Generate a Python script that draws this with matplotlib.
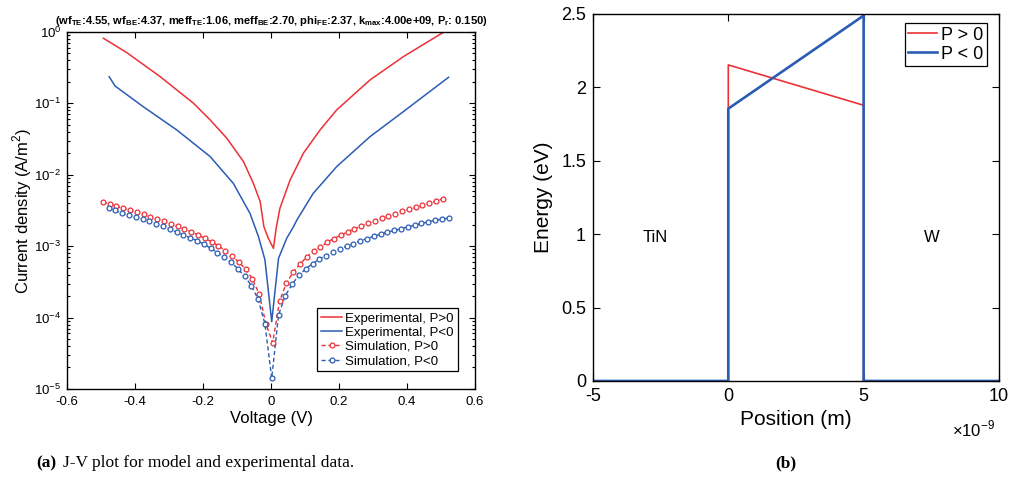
import matplotlib
matplotlib.use("Agg")
import matplotlib.pyplot as plt
import numpy as np
from matplotlib.ticker import LogLocator, FixedLocator

plt.rcParams["font.family"] = ["Liberation Sans", "DejaVu Sans"]
plt.rcParams["mathtext.fontset"] = "custom"
plt.rcParams["mathtext.rm"] = "Liberation Sans"
plt.rcParams["mathtext.bf"] = "Liberation Sans:bold"

RED = "#ec3037"
BLUE = "#2b5cb4"

# ---- (a) J-V data: voltage (V), log10 of current density (A/m^2)
v_exp_pos = [-0.493, -0.424, -0.326, -0.228, -0.179, -0.130, -0.081, -0.052, -0.032,
             -0.021, -0.008, 0.007, 0.015, 0.026, 0.056, 0.095, 0.144, 0.193, 0.291,
             0.389, 0.505]
logj_exp_pos = [-0.088, -0.290, -0.626, -0.999, -1.232, -1.489, -1.816, -2.120, -2.376,
                -2.727, -2.890, -3.030, -2.750, -2.470, -2.073, -1.699, -1.373, -1.092,
                -0.672, -0.346, -0.010]

v_exp_neg = [-0.476, -0.459, -0.376, -0.277, -0.179, -0.111, -0.062, -0.037, -0.018,
             0.002, 0.022, 0.046, 0.066, 0.076, 0.124, 0.193, 0.291, 0.389, 0.522]
logj_exp_neg = [-0.626, -0.756, -1.046, -1.373, -1.746, -2.120, -2.540, -2.866, -3.190,
                -4.057, -3.170, -2.890, -2.727, -2.633, -2.260, -1.886, -1.466, -1.116,
                -0.635]

v_sim_pos = [-0.495, -0.475, -0.455, -0.435, -0.415, -0.395, -0.375, -0.355, -0.335, -0.315,
             -0.295, -0.275, -0.255, -0.235, -0.215, -0.195, -0.175, -0.155, -0.135, -0.115,
             -0.095, -0.075, -0.055, -0.035, -0.015, 0.005, 0.025, 0.045, 0.065, 0.085,
             0.105, 0.125, 0.145, 0.165, 0.185, 0.205, 0.225, 0.245, 0.265, 0.285,
             0.305, 0.325, 0.345, 0.365, 0.385, 0.405, 0.425, 0.445, 0.465, 0.485, 0.505]
logj_sim_pos = [-2.388, -2.411, -2.444, -2.467, -2.500, -2.528, -2.556, -2.593, -2.621, -2.650,
                -2.687, -2.724, -2.757, -2.799, -2.841, -2.888, -2.939, -2.995, -3.061, -3.136,
                -3.224, -3.318, -3.458, -3.668, -4.089, -4.350, -3.766, -3.519, -3.364, -3.252,
                -3.150, -3.070, -3.014, -2.944, -2.893, -2.846, -2.799, -2.757, -2.720, -2.682,
                -2.645, -2.612, -2.575, -2.547, -2.514, -2.486, -2.458, -2.425, -2.402, -2.369, -2.336]

v_sim_neg = [-0.478, -0.458, -0.438, -0.418, -0.398, -0.378, -0.358, -0.338, -0.318, -0.298,
             -0.278, -0.258, -0.238, -0.218, -0.198, -0.178, -0.158, -0.138, -0.118, -0.098,
             -0.078, -0.058, -0.038, -0.018, 0.002, 0.022, 0.042, 0.062, 0.082, 0.102,
             0.122, 0.142, 0.162, 0.182, 0.202, 0.222, 0.242, 0.262, 0.282, 0.302,
             0.322, 0.342, 0.362, 0.382, 0.402, 0.422, 0.442, 0.462, 0.482, 0.502, 0.522]
logj_sim_neg = [-2.467, -2.500, -2.537, -2.565, -2.593, -2.621, -2.654, -2.687, -2.724, -2.762,
                -2.804, -2.841, -2.883, -2.921, -2.972, -3.028, -3.089, -3.154, -3.224, -3.313,
                -3.421, -3.551, -3.743, -4.089, -4.850, -3.963, -3.692, -3.533, -3.407, -3.318,
                -3.243, -3.182, -3.131, -3.084, -3.042, -3.000, -2.967, -2.925, -2.893, -2.864,
                -2.832, -2.804, -2.780, -2.757, -2.729, -2.706, -2.682, -2.659, -2.640, -2.621, -2.607]

# ---- (b) band diagram: position (m), energy (eV)
pos_pos = [-5e-9, 0.0, 0.0, 5e-9, 5e-9, 10e-9]
energy_pos = [0.0, 0.0, 2.153, 1.878, 0.0, 0.0]
pos_neg = [-5e-9, 0.0, 0.0, 5e-9, 5e-9, 10e-9]
energy_neg = [0.0, 0.0, 1.855, 2.489, 0.0, 0.0]

fig = plt.figure(figsize=(10.11, 4.8), dpi=100)
ax1 = fig.add_axes([0.0663, 0.1896, 0.4036, 0.7438])
ax2 = fig.add_axes([0.5865, 0.2063, 0.4016, 0.7646])

# left panel
ax1.plot(v_exp_pos, 10 ** np.array(logj_exp_pos), color=RED, lw=1.1, label="Experimental, P>0")
ax1.plot(v_exp_neg, 10 ** np.array(logj_exp_neg), color=BLUE, lw=1.1, label="Experimental, P<0")
ax1.plot(v_sim_pos, 10 ** np.array(logj_sim_pos), color=RED, lw=1.0, ls=(0, (3, 2)),
         marker="o", ms=3.5, mfc="white", mew=0.9, label="Simulation, P>0")
ax1.plot(v_sim_neg, 10 ** np.array(logj_sim_neg), color=BLUE, lw=1.0, ls=(0, (3, 2)),
         marker="o", ms=3.5, mfc="white", mew=0.9, label="Simulation, P<0")
ax1.set_yscale("log")
ax1.set_xlim(-0.6, 0.6)
ax1.set_ylim(1e-5, 1)
ax1.set_xticks([-0.6, -0.4, -0.2, 0, 0.2, 0.4, 0.6])
ax1.set_xticklabels(["-0.6", "-0.4", "-0.2", "0", "0.2", "0.4", "0.6"])
ax1.yaxis.set_major_locator(LogLocator(base=10, numticks=10))
ax1.yaxis.set_minor_locator(LogLocator(base=10, subs=np.arange(2, 10), numticks=20))
ax1.yaxis.set_minor_formatter(plt.NullFormatter())
ax1.tick_params(which="both", direction="in", top=True, right=True, labelsize=9.5, width=0.8)
ax1.tick_params(which="major", length=4)
ax1.tick_params(which="minor", length=2.5)
ax1.tick_params(axis="x", pad=5)
ax1.tick_params(axis="y", pad=4)
for s in ax1.spines.values():
    s.set_linewidth(1.0)
ax1.set_xlabel("Voltage (V)", fontsize=12, labelpad=2)
ax1.set_ylabel("Current density (A/m$^2$)", fontsize=12, labelpad=0)
ax1.set_title(r"(wf$_{\mathbf{TE}}$:4.55, wf$_{\mathbf{BE}}$:4.37, meff$_{\mathbf{TE}}$:1.06, "
              r"meff$_{\mathbf{BE}}$:2.70, phi$_{\mathbf{FE}}$:2.37, k$_{\mathbf{max}}$:4.00e+09, "
              r"P$_{\mathbf{r}}$: 0.150)", fontsize=8, fontweight="bold", pad=6)
leg1 = ax1.legend(loc="lower right", bbox_to_anchor=(0.957, 0.05), fontsize=9.5,
                  handlelength=1.6, handletextpad=0.2, borderpad=0.3, labelspacing=0.15,
                  borderaxespad=0, fancybox=False, framealpha=1)
leg1.get_frame().set_edgecolor("black")
leg1.get_frame().set_linewidth(0.9)

# right panel
ax2.plot(pos_pos, energy_pos, color=RED, lw=1.2, label="P > 0")
ax2.plot(pos_neg, energy_neg, color=BLUE, lw=1.9, label="P < 0")
ax2.set_xlim(-5e-9, 10e-9)
ax2.set_ylim(0, 2.5)
ax2.xaxis.set_major_locator(FixedLocator([-5e-9, 0, 5e-9, 10e-9]))
ax2.set_xticklabels(["-5", "0", "5", "10"])
ax2.set_yticks([0, 0.5, 1, 1.5, 2, 2.5])
ax2.set_yticklabels(["0", "0.5", "1", "1.5", "2", "2.5"])
ax2.tick_params(direction="in", top=True, right=True, labelsize=13, length=5, width=0.8, pad=5)
for s in ax2.spines.values():
    s.set_linewidth(1.0)
ax2.set_xlabel("Position (m)", fontsize=15, labelpad=4)
ax2.set_ylabel("Energy (eV)", fontsize=15, labelpad=6)
ax2.text(0.885, -0.132, r"$\times$10$^{-9}$", transform=ax2.transAxes, fontsize=12,
         ha="left", va="center")
ax2.text(-2.7e-9, 0.98, "TiN", fontsize=12, ha="center", va="center")
ax2.text(7.5e-9, 0.98, "W", fontsize=12, ha="center", va="center")
leg2 = ax2.legend(loc="upper right", bbox_to_anchor=(0.97, 0.975), fontsize=13,
                  handlelength=1.6, handletextpad=0.2, borderpad=0.2, labelspacing=0.1,
                  borderaxespad=0, fancybox=False, framealpha=1)
leg2.get_frame().set_edgecolor("black")
leg2.get_frame().set_linewidth(0.9)

# captions
fig.text(0.0356, 0.035, "(a)", fontsize=12.5, fontweight="bold", family="Liberation Serif",
         ha="left", va="center")
fig.text(0.0356 + 0.027, 0.035, "J-V plot for model and experimental data.", fontsize=12.5,
         family="Liberation Serif", ha="left", va="center")
fig.text(0.777, 0.035, "(b)", fontsize=12.5, fontweight="bold", family="Liberation Serif",
         ha="center", va="center")

fig.savefig("out.png", dpi=100)
